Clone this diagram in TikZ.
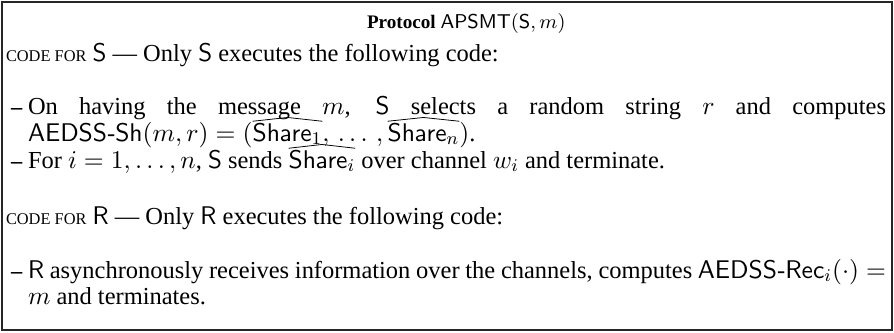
\documentclass[tikz,border=0pt]{standalone}
\usepackage{fix-cm}
\usepackage[no-math]{fontspec}
\setmainfont{Liberation Serif}[Scale=0.957]
\usepackage{amsmath}
\newcommand\fsc[1]{{\fontsize{7.7pt}{8pt}\selectfont #1}}
\newcommand\fullline[1]{\makebox[386.1pt][s]{#1}}
\tikzset{
  txt/.style={inner sep=0pt,outer sep=0pt,anchor=base west,font=\fontsize{11.5pt}{13pt}\selectfont},
  dashmark/.style={inner sep=0pt,outer sep=0pt,anchor=base west,font=\fontsize{10.5pt}{13pt}\selectfont\bfseries},
  ttl/.style={inner sep=0pt,outer sep=0pt,anchor=base west,font=\fontsize{9pt}{11pt}\selectfont},
  frame/.style={draw=black!85,line width=0.6pt},
  hat/.style={line width=0.35pt,line join=miter},
}
\begin{document}
\begin{tikzpicture}[x=0.45pt,y=-0.45pt]
\useasboundingbox (0,0) rectangle (894,332);
\draw[frame] (2,2) rectangle (892,330);
\node[ttl] (title) at (367,29) {\textbf{Protocol} $\mathsf{APSMT}(\mathsf{S}, m)$};
\node[txt] (codeS) at (6,62) {\fsc{CODE FOR} \textsf{S} --- Only \textsf{S} executes the following code:};
\node[dashmark] (d1) at (11,114) {--};
\node[txt] (l1) at (28,114) {\fullline{On having the message $m$, \textsf{S} selects a random string $r$ and computes}};
\node[txt] (l2a) at (28,141) {$\mathsf{AEDSS\text{-}Sh}(m, r) = ($};
\node[txt] (s1) at (l2a.base east) {$\mathsf{Share}_1$};
\node[txt] (l2b) at (s1.base east) {$,\,\ldots\,,\,$};
\node[txt] (sn) at (l2b.base east) {$\mathsf{Share}_n$};
\node[txt] (l2c) at (sn.base east) {$)$.};
\node[dashmark] (d2) at (11,168) {--};
\node[txt] (l3a) at (28,168) {For $i = 1, \ldots, n$, \textsf{S} sends};
\node[txt] (si) at ([xshift=2.75pt]l3a.base east) {$\mathsf{Share}_i$};
\node[txt] (l3b) at ([xshift=2.75pt]si.base east) {over channel $w_i$ and terminate.};
\node[txt] (codeR) at (6,224) {\fsc{CODE FOR} \textsf{R} --- Only \textsf{R} executes the following code:};
\node[dashmark] (d3) at (11,278) {--};
\node[txt] (l4) at (28,278) {\fullline{\textsf{R} asynchronously receives information over the channels, computes \mbox{$\mathsf{AEDSS\text{-}Rec}_i(\cdot) =$}}};
\node[txt] (l5) at (28,304) {$m$ and terminates.};
\foreach \n in {s1,sn,si}{
  \draw[hat] ([yshift=0.9pt]\n.north west) -- ([yshift=2.6pt]\n.north) -- ([yshift=0.9pt]\n.north east);
}
\end{tikzpicture}
\end{document}
